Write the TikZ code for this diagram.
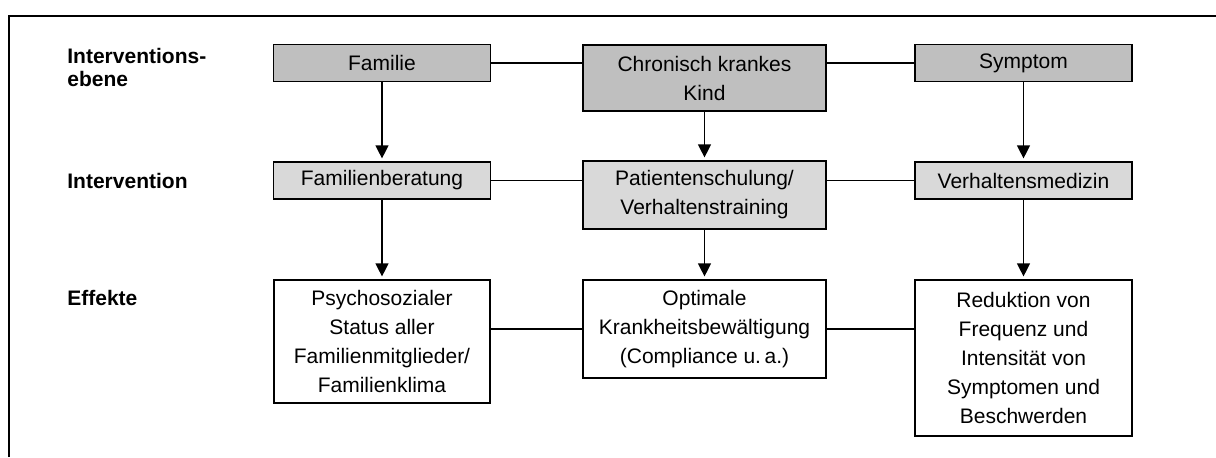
\documentclass[tikz,border=0pt]{standalone}
\usepackage{fontspec}
\setmainfont{Liberation Sans}
\usepackage{tikz}
\usetikzlibrary{positioning, arrows.meta}
\definecolor{ebenegray}{RGB}{191, 191, 191}
\definecolor{massgray}{RGB}{217, 217, 217}

\begin{document}
\begin{tikzpicture}[x=0.5pt, y=-0.5pt,
    box/.style={draw, line width=0.6pt, align=center, inner sep=0pt,
        font=\fontsize{10.5}{14.5}\selectfont},
    ebenebox/.style={box, fill=ebenegray},
    massbox/.style={box, fill=massgray},
    effektbox/.style={box, fill=white},
    rowlabel/.style={anchor=base west, align=left, inner sep=0pt,
        font=\fontsize{10.5}{11.5}\selectfont\bfseries},
    link/.style={line width=0.6pt},
    pfeil/.style={-{Triangle[length=6.5pt, width=6.5pt]}, line width=0.6pt, shorten >=1.5pt}]

    \useasboundingbox (0,0) rectangle (1216,457);

    % Frame
    \draw[line width=0.75pt] (9,457) -- (9,16) -- (1216,16);

    % Row labels
    \node[rowlabel] (lblEbene) at (67,86) {Interventions-\\ebene};
    \node[rowlabel] (lblInt) at (67,188) {Intervention};
    \node[rowlabel] (lblEff) at (67,305) {Effekte};

    % Interventionsebene
    \node[ebenebox, minimum width=108.5pt, minimum height=18.5pt] (familie) at (382,63) {Familie};
    \node[ebenebox, minimum width=121.5pt, minimum height=33pt] (kind) at (704.5,78) {Chronisch krankes\\Kind};
    \node[ebenebox, minimum width=108.5pt, minimum height=18.5pt] (symptom) at (1023.5,63) {Symptom};

    % Intervention
    \node[massbox, minimum width=108.5pt, minimum height=18.5pt] (beratung) at (382,180.5) {Familienberatung};
    \node[massbox, minimum width=121.5pt, minimum height=34pt] (schulung) at (704.5,195) {Patientenschulung/\\Verhaltenstraining};
    \node[massbox, minimum width=108.5pt, minimum height=18.5pt] (medizin) at (1023.5,180.5) {Verhaltensmedizin};

    % Effekte
    \node[effektbox, minimum width=108pt, minimum height=61.5pt] (psycho) at (382,341.5)
        {Psychosozialer\\Status aller\\Familienmitglieder/\\Familienklima};
    \node[effektbox, minimum width=121.5pt, minimum height=49pt] (optimal) at (704.5,329)
        {Optimale\\Krankheitsbewältigung\\(Compliance u.\,a.)};
    \node[effektbox, minimum width=108.5pt, minimum height=78pt] (reduktion) at (1023.5,358)
        {Reduktion von\\Frequenz und\\Intensität von\\Symptomen und\\Beschwerden};

    % Horizontal links
    \draw[link] (familie.east) -- (familie.east -| kind.west);
    \draw[link] (kind.east |- symptom.west) -- (symptom.west);
    \draw[link] (beratung.east) -- (beratung.east -| schulung.west);
    \draw[link] (schulung.east |- medizin.west) -- (medizin.west);
    \draw[link] (psycho.east |- optimal.west) -- (optimal.west);
    \draw[link] (optimal.east) -- (optimal.east -| reduktion.west);

    % Arrows
    \draw[pfeil] (familie) -- (beratung);
    \draw[pfeil] (kind) -- (schulung);
    \draw[pfeil] (symptom) -- (medizin);
    \draw[pfeil] (beratung) -- (psycho);
    \draw[pfeil] (schulung) -- (optimal);
    \draw[pfeil] (medizin) -- (reduktion);
\end{tikzpicture}
\end{document}
